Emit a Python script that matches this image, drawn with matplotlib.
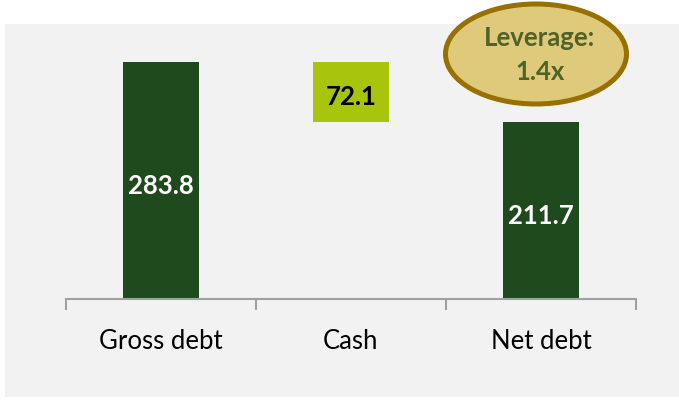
import matplotlib
matplotlib.use("Agg")
import matplotlib.pyplot as plt
from matplotlib.patches import Ellipse, Rectangle

categories = ["Gross debt", "Cash", "Net debt"]
gross_debt = 283.8
cash = 72.1
net_debt = 211.7
leverage_lines = ["Leverage:", "1.4x"]

plt.rcParams['font.family'] = ['Lato', 'DejaVu Sans']

W, H = 679, 402
fig = plt.figure(figsize=(W / 100, H / 100), dpi=100)
fig.patch.set_facecolor('white')

# grey chart area
fig.add_artist(Rectangle((5 / W, 4 / H), 1 - 5 / W, (397 - 24) / H, transform=fig.transFigure,
                         facecolor='#f2f2f2', edgecolor='none', zorder=0))

ax = fig.add_axes([66 / W, (H - 300) / H, 570 / W, 276 / H])
ax.set_facecolor('none')

dark = '#1f4a1d'
lime = '#a9c40c'
bottoms = [0, net_debt, 0]
heights = [gross_debt, cash, net_debt]
colors = [dark, lime, dark]
x = list(range(len(categories)))
ax.bar(x, heights, bottom=bottoms, width=0.405, color=colors, zorder=2)

ax.set_xlim(-0.5, 2.5)
ax.set_ylim(0, 276 / 0.835)

for xi, b, h, c in zip(x, bottoms, heights, colors):
    txtc = 'white' if c == dark else 'black'
    ax.annotate(f"{h:.1f}", (xi, b + h / 2), xytext=(0, -3), textcoords='offset points',
                ha='center', va='center', color=txtc,
                fontsize=18.5, fontweight='bold', zorder=3)

for s in ['top', 'right', 'left']:
    ax.spines[s].set_visible(False)
ax.spines['bottom'].set_color('#a0a0a0')
ax.spines['bottom'].set_linewidth(1.5)
ax.set_yticks([])
ax.set_xticks([-0.5, 0.5, 1.5, 2.5])
ax.set_xticklabels([])
ax.tick_params(axis='x', which='major', length=8, width=1.5, color='#a0a0a0')
ax.set_xticks(x, minor=True)
ax.set_xticklabels(categories, minor=True, fontsize=18.5)
ax.tick_params(axis='x', which='minor', length=0, pad=21)

# leverage ellipse
fig.add_artist(Ellipse((536 / W, 1 - 55 / H), 181 / W, 100 / H, transform=fig.transFigure,
                       facecolor='#dfc97a', edgecolor='#987000', linewidth=3.6, zorder=5))
for txt, yy in zip(leverage_lines, [38, 72]):
    fig.text(540 / W, 1 - yy / H, txt, ha='center', va='center', color='#4f6228',
             fontsize=18.5, fontweight='bold', zorder=6)

fig.savefig('out.png', dpi=100)
